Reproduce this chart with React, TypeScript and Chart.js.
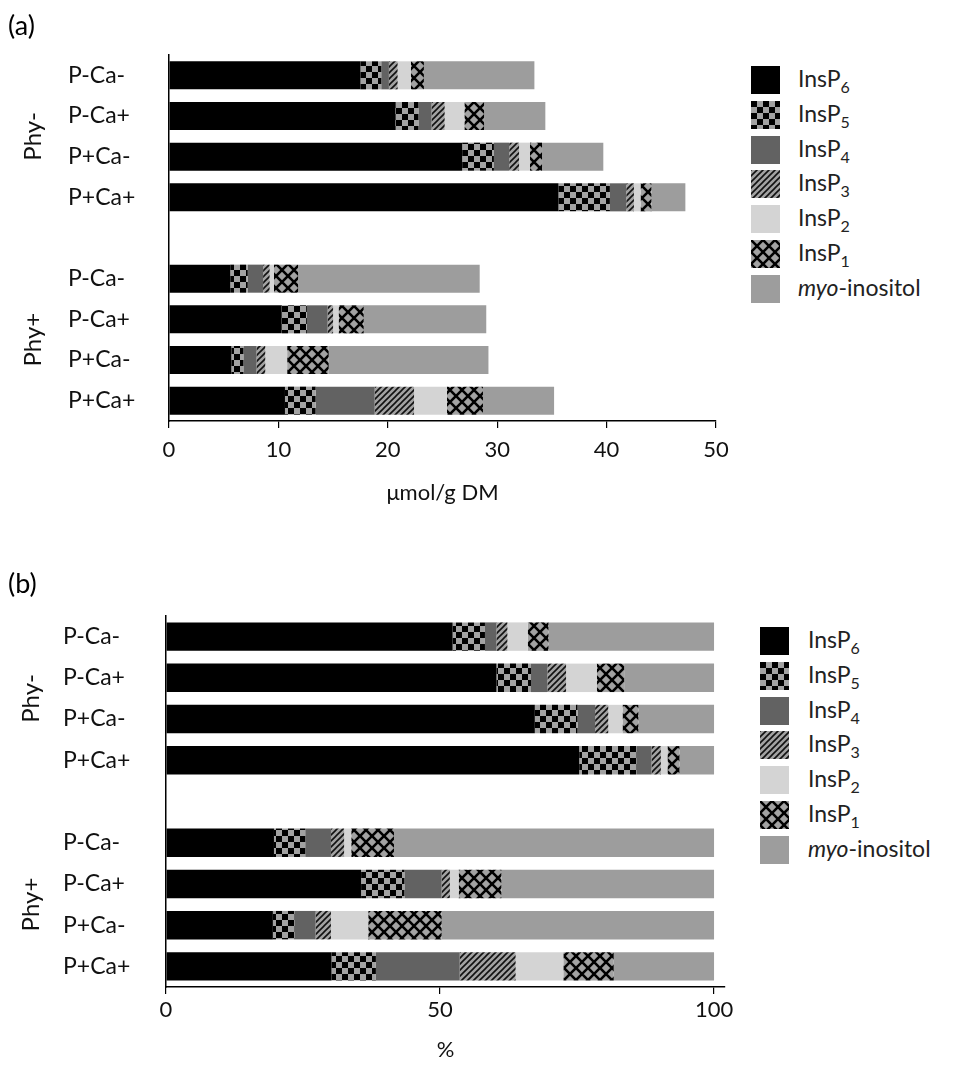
import React, { useEffect, useRef } from "react";
import { Chart, registerables } from "chart.js";
Chart.register(...registerables);

// ---------- data ----------
const categories = ["P-Ca-", "P-Ca+", "P+Ca-", "P+Ca+", "", "P-Ca-", "P-Ca+", "P+Ca-", "P+Ca+"];
const groupLabels = ["Phy-", "Phy+"];
const seriesNames = ["InsP6", "InsP5", "InsP4", "InsP3", "InsP2", "InsP1", "myo-inositol"];

// (a) µmol/g DM
const insP6A = [17.5, 20.7, 26.8, 35.6, null, 5.6, 10.3, 5.7, 10.6];
const insP5A = [1.9, 2.1, 2.9, 4.7, null, 1.6, 2.3, 1.1, 2.8];
const insP4A = [0.7, 1.2, 1.4, 1.5, null, 1.4, 1.9, 1.2, 5.4];
const insP3A = [0.8, 1.2, 0.9, 0.7, null, 0.6, 0.5, 0.8, 3.6];
const insP2A = [1.2, 1.8, 1.0, 0.6, null, 0.4, 0.5, 2.0, 3.0];
const insP1A = [1.2, 1.8, 1.1, 1.0, null, 2.2, 2.3, 3.8, 3.3];
const myoA = [10.1, 5.6, 5.6, 3.1, null, 16.6, 11.2, 14.6, 6.5];

// (b) %
const insP6B = [52.3, 60.3, 67.3, 75.4, null, 19.7, 35.6, 19.5, 30.2];
const insP5B = [5.9, 6.3, 7.8, 10.4, null, 5.7, 7.9, 3.9, 8.1];
const insP4B = [2.1, 3.0, 3.2, 2.8, null, 4.7, 6.8, 3.9, 15.3];
const insP3B = [2.0, 3.4, 2.4, 1.7, null, 2.4, 1.5, 2.8, 10.2];
const insP2B = [3.7, 5.6, 2.6, 1.2, null, 1.3, 1.6, 6.8, 8.7];
const insP1B = [3.8, 5.0, 2.9, 2.2, null, 7.8, 7.8, 13.4, 9.2];
const myoB = [30.2, 16.4, 13.8, 6.3, null, 58.4, 38.8, 49.7, 18.3];

const ticksA = [0, 10, 20, 30, 40, 50];
const ticksB = [0, 50, 100];

// ---------- styles ----------
const FONT = "Lato, 'Open Sans', sans-serif";
const MID = "#9d9d9d";
const kinds = ["solid:#000000", "checker", "solid:#626262", "hatch", "solid:#d4d4d4", "cross", "solid:" + MID];

function makeTile(kind: string): HTMLCanvasElement {
  const c = document.createElement("canvas");
  const ctx = c.getContext("2d")!;
  if (kind.startsWith("solid:")) {
    c.width = 8; c.height = 8;
    ctx.fillStyle = kind.slice(6);
    ctx.fillRect(0, 0, 8, 8);
  } else if (kind === "checker") {
    c.width = 12; c.height = 12;
    ctx.fillStyle = "#a2a2a2"; ctx.fillRect(0, 0, 12, 12);
    ctx.fillStyle = "#000"; ctx.fillRect(0, 0, 6, 6); ctx.fillRect(6, 6, 6, 6);
  } else if (kind === "hatch") {
    c.width = 6; c.height = 6;
    ctx.fillStyle = "#a2a2a2"; ctx.fillRect(0, 0, 6, 6);
    ctx.strokeStyle = "#111"; ctx.lineWidth = 1.6;
    ctx.beginPath();
    for (let k = -6; k <= 12; k += 6) { ctx.moveTo(k - 1, 7); ctx.lineTo(k + 7, -1); }
    ctx.stroke();
  } else if (kind === "cross") {
    c.width = 12; c.height = 12;
    ctx.fillStyle = "#a2a2a2"; ctx.fillRect(0, 0, 12, 12);
    ctx.strokeStyle = "#000"; ctx.lineWidth = 2.6;
    ctx.beginPath();
    ctx.moveTo(-2, -2); ctx.lineTo(14, 14);
    ctx.moveTo(14, -2); ctx.lineTo(-2, 14);
    ctx.stroke();
  }
  return c;
}

function fillFor(kind: string, ctx: CanvasRenderingContext2D): string | CanvasPattern {
  if (kind.startsWith("solid:")) return kind.slice(6);
  return ctx.createPattern(makeTile(kind), "repeat")!;
}

const groupPlugin = (x: number) => ({
  id: "groupLabels",
  afterDraw(chart: any) {
    const { ctx, scales } = chart;
    const y = scales.y;
    ctx.save();
    ctx.fillStyle = "#111";
    ctx.font = `24px ${FONT}`;
    ctx.textAlign = "center";
    ctx.textBaseline = "middle";
    const centers = [
      (y.getPixelForValue(0) + y.getPixelForValue(3)) / 2,
      (y.getPixelForValue(5) + y.getPixelForValue(8)) / 2,
    ];
    groupLabels.forEach((g, i) => {
      ctx.save();
      ctx.translate(x, centers[i]);
      ctx.rotate(-Math.PI / 2);
      ctx.fillText(g, 0, 0);
      ctx.restore();
    });
    ctx.restore();
  },
});

type Cfg = {
  series: (number | null)[][];
  max: number;
  ticks: number[];
  title: string;
  padLeft: number;
  padTop: number;
  padRight: number;
  yWidth: number;
  xHeight: number;
  tickPad: number;
  titlePad: number;
  groupX: number;
};

function build(canvas: HTMLCanvasElement, cfg: Cfg) {
  const ctx = canvas.getContext("2d")!;
  return new Chart(canvas, {
    type: "bar",
    data: {
      labels: categories,
      datasets: cfg.series.map((vals, i) => ({
        label: seriesNames[i],
        data: vals,
        backgroundColor: fillFor(kinds[i], ctx),
        borderWidth: 0,
        barPercentage: 0.69,
        categoryPercentage: 1,
      })),
    },
    options: {
      indexAxis: "y",
      responsive: false,
      animation: false,
      layout: { padding: { left: cfg.padLeft, top: cfg.padTop, right: cfg.padRight, bottom: 0 } },
      plugins: { legend: { display: false }, tooltip: { enabled: false }, title: { display: false } },
      scales: {
        x: {
          stacked: true,
          min: 0,
          max: cfg.max,
          afterBuildTicks: (s: any) => { s.ticks = cfg.ticks.map((v) => ({ value: v })); },
          afterFit: (s: any) => { s.height = cfg.xHeight; },
          grid: { drawOnChartArea: false, drawTicks: true, tickLength: 7, color: "#000", lineWidth: 1.2 },
          border: { color: "#000", width: 1.5 },
          ticks: { color: "#111", font: { size: 22, family: FONT }, padding: cfg.tickPad, maxRotation: 0 },
          title: { display: true, text: cfg.title, color: "#111", font: { size: 22, family: FONT }, padding: { top: 0, bottom: cfg.titlePad } },
        },
        y: {
          stacked: true,
          afterFit: (s: any) => { s.width = cfg.yWidth; },
          grid: { display: false },
          border: { color: "#000", width: 1.5 },
          ticks: { color: "#111", font: { size: 23, family: FONT }, crossAlign: "far", autoSkip: false, padding: 0 },
        },
      },
    } as any,
    plugins: [groupPlugin(cfg.groupX)],
  });
}

function Legend({ left, top, textLeft }: { left: number; top: number; textLeft: number }) {
  return (
    <div style={{ position: "absolute", left, top }}>
      {seriesNames.map((n, i) => {
        const url = makeTile(kinds[i]).toDataURL();
        return (
          <div key={n} style={{ position: "absolute", left: 0, top: i * 34.8, height: 28, width: 220 }}>
            <div style={{ position: "absolute", left: 0, top: 0, width: 29, height: 28, backgroundImage: `url(${url})` }} />
            <div style={{ position: "absolute", left: textLeft, top: -2, lineHeight: "28px", fontSize: 23, fontWeight: 400, fontFamily: FONT, color: "#222", whiteSpace: "nowrap" }}>
              {n.startsWith("InsP") ? (
                <span>InsP<sub style={{ fontSize: 16, verticalAlign: "-6px" }}>{n.slice(4)}</sub></span>
              ) : (
                <span><i>myo</i>-inositol</span>
              )}
            </div>
          </div>
        );
      })}
    </div>
  );
}

export default function App() {
  const refA = useRef<HTMLCanvasElement>(null);
  const refB = useRef<HTMLCanvasElement>(null);
  useEffect(() => {
    const a = build(refA.current!, {
      series: [insP6A, insP5A, insP4A, insP3A, insP2A, insP1A, myoA],
      max: 50, ticks: ticksA, title: "μmol/g DM",
      padLeft: 68, padTop: 55, padRight: 24, yWidth: 101, xHeight: 99, tickPad: 9, titlePad: 14, groupX: 33,
    });
    const b = build(refB.current!, {
      series: [insP6B, insP5B, insP4B, insP3B, insP2B, insP1B, myoB],
      max: 102, ticks: ticksB, title: "%",
      padLeft: 63, padTop: 56, padRight: 15, yWidth: 103, xHeight: 82, tickPad: 3, titlePad: 6, groupX: 31,
    });
    return () => { a.destroy(); b.destroy(); };
  }, []);
  return (
    <div style={{ position: "absolute", left: 0, top: 0, width: 958, height: 1069, background: "#fff", overflow: "hidden" }}>
      <canvas ref={refA} width={740} height={520} style={{ position: "absolute", left: 0, top: 0 }} />
      <canvas ref={refB} width={740} height={509} style={{ position: "absolute", left: 0, top: 560 }} />
      <div style={{ position: "absolute", left: 8, top: 8, fontSize: 27, fontFamily: FONT, color: "#000" }}>(a)</div>
      <div style={{ position: "absolute", left: 8, top: 566, fontSize: 27, fontFamily: FONT, color: "#000" }}>(b)</div>
      <Legend left={751} top={66} textLeft={47} />
      <Legend left={760} top={627} textLeft={48} />
    </div>
  );
}
